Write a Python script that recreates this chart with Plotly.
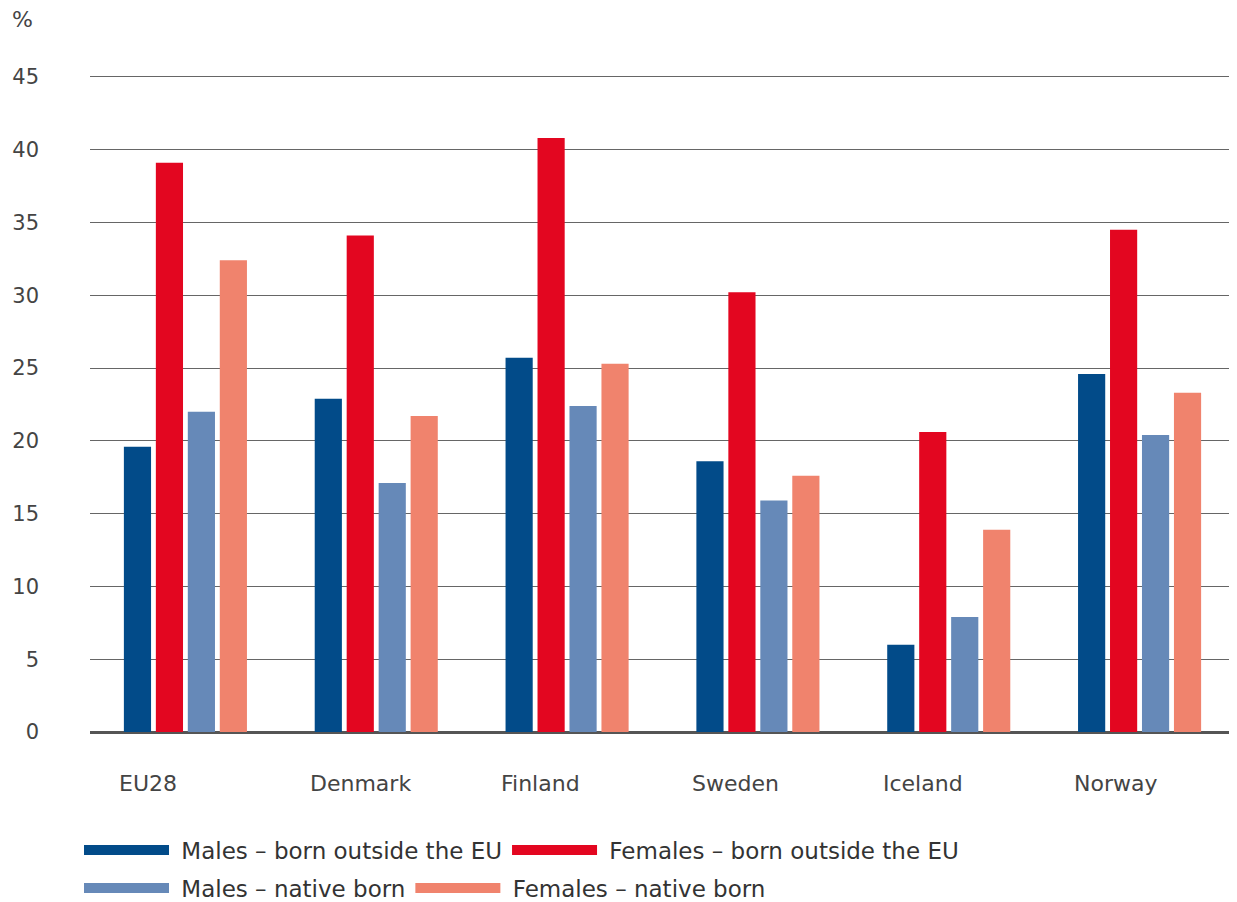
import plotly.graph_objects as go

categories = ["EU28", "Denmark", "Finland", "Sweden", "Iceland", "Norway"]
series_names = [
    "Males – born outside the EU",
    "Females – born outside the EU",
    "Males – native born",
    "Females – native born",
]
males_outside = [19.6, 22.9, 25.7, 18.6, 6.0, 24.6]
females_outside = [39.1, 34.1, 40.8, 30.2, 20.6, 34.5]
males_native = [22.0, 17.1, 22.4, 15.9, 7.9, 20.4]
females_native = [32.4, 21.7, 25.3, 17.6, 13.9, 23.3]
y_ticks = [0, 5, 10, 15, 20, 25, 30, 35, 40, 45]

colors = ["#024B89", "#E30620", "#6689B8", "#F0836D"]
values = [males_outside, females_outside, males_native, females_native]

FONT = "DejaVu Sans"
fig = go.Figure()
for name, vals, col in zip(series_names, values, colors):
    fig.add_trace(go.Bar(x=categories, y=vals, name=name, marker_color=col,
                         marker_line_width=0, showlegend=False))

legend_ids = ["legend", "legend", "legend2", "legend2"]
for name, col, lg in zip(series_names, colors, legend_ids):
    fig.add_trace(go.Scatter(x=[None], y=[None], mode="lines",
                             name="\u00a0" + name,
                             line=dict(color=col, width=10), legend=lg,
                             showlegend=True))

annotations = []
for c in categories:
    annotations.append(dict(x=c, xref="x", y=0, yref="paper", text=c,
                            showarrow=False, xanchor="left", yanchor="middle",
                            xshift=-68, yshift=-51,
                            font=dict(family=FONT, size=22, color="#444444")))
annotations.append(dict(x=0, xref="paper", y=1, yref="paper", text="%",
                        showarrow=False, xanchor="left", yanchor="middle",
                        xshift=-80, yshift=55,
                        font=dict(family=FONT, size=22, color="#444444")))

legend_common = dict(orientation="h", xanchor="left", yanchor="middle",
                     x=-0.0096, itemwidth=85, bgcolor="rgba(0,0,0,0)",
                     font=dict(family=FONT, size=23, color="#333333"),
                     traceorder="normal", itemclick=False, tracegroupgap=0)

# page body has an 8px margin; figure is sized/offset to compensate
fig.update_layout(
    width=1229, height=894,
    margin=dict(l=82, r=2, t=66, b=170, autoexpand=False),
    paper_bgcolor="white", plot_bgcolor="white",
    barmode="group", bargap=0.33, bargroupgap=0.15,
    annotations=annotations,
    legend=dict(**legend_common, y=-0.1793),
    legend2=dict(**legend_common, y=-0.2371),
    xaxis=dict(showticklabels=False, showgrid=False, showline=False,
               zeroline=False, range=[-0.5, 5.5], automargin=False),
    yaxis=dict(range=[0, 45.2], tickvals=y_ticks, showgrid=True,
               gridcolor="#666666", gridwidth=1, zeroline=True,
               zerolinecolor="#555555", zerolinewidth=3, showline=False,
               ticks="", ticklabelstandoff=50, automargin=False,
               tickfont=dict(family=FONT, size=21, color="#444444")),
)

fig.write_html("out.html")
